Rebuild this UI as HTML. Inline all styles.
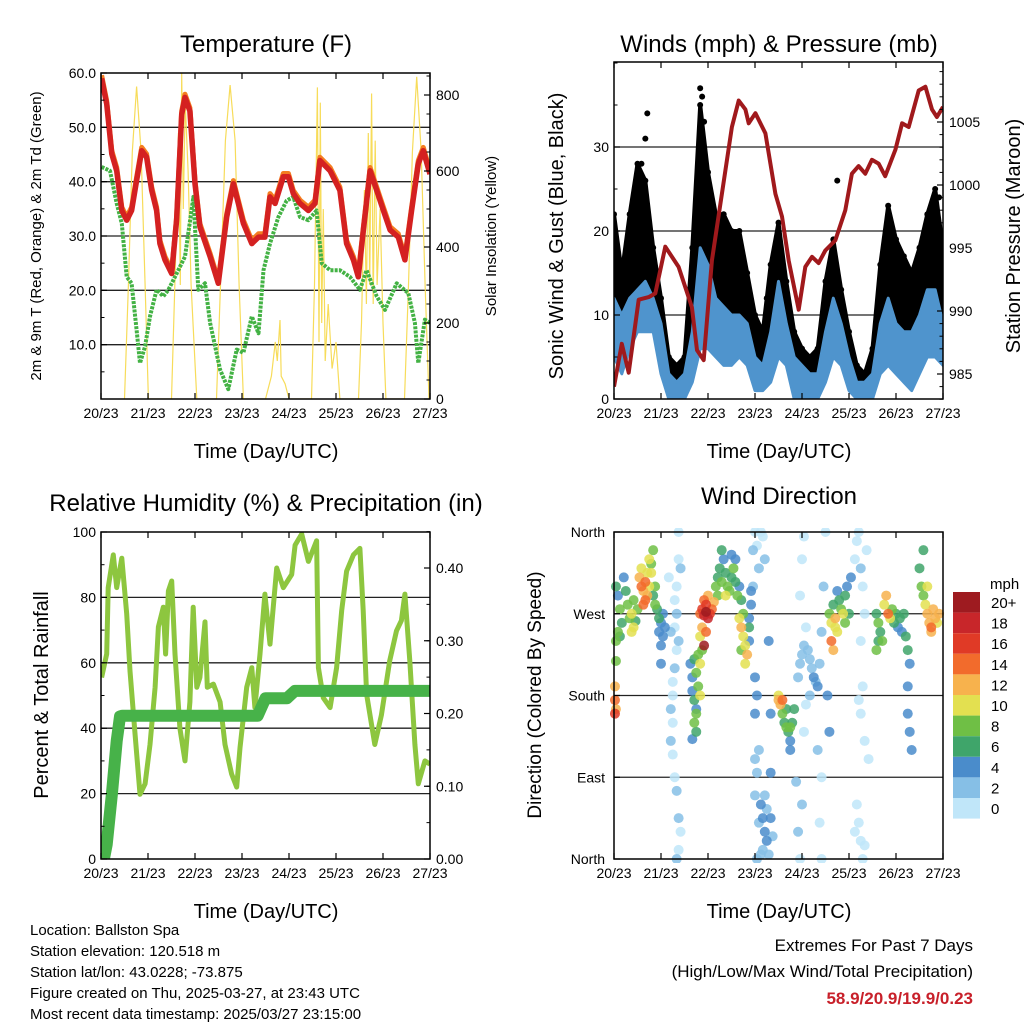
<!DOCTYPE html>
<html><head><meta charset="utf-8"><title>Station Meteogram</title>
<style>
html,body{margin:0;padding:0;background:#fff;}
svg{display:block;font-family:"Liberation Sans",Arial,sans-serif;}
</style></head>
<body>
<svg id="root" width="1024" height="1024" viewBox="0 0 1024 1024" xmlns="http://www.w3.org/2000/svg">
<defs>
<clipPath id="c1"><rect x="101" y="73" width="329" height="326"/></clipPath>
<clipPath id="c2"><rect x="614" y="62" width="329" height="337"/></clipPath>
<clipPath id="c3"><rect x="101" y="532" width="329" height="327"/></clipPath>
<clipPath id="c4"><rect x="610" y="528" width="337" height="335"/></clipPath>
</defs>
<text x="266" y="52" font-size="24" text-anchor="middle">Temperature (F)</text>
<text x="779" y="52" font-size="24" text-anchor="middle">Winds (mph) &amp; Pressure (mb)</text>
<text x="266" y="511" font-size="24" text-anchor="middle">Relative Humidity (%) &amp; Precipitation (in)</text>
<text x="779" y="504" font-size="24" text-anchor="middle">Wind Direction</text>
<text x="266" y="458" font-size="20" text-anchor="middle">Time (Day/UTC)</text>
<text x="779" y="458" font-size="20" text-anchor="middle">Time (Day/UTC)</text>
<text x="266" y="918" font-size="20" text-anchor="middle">Time (Day/UTC)</text>
<text x="779" y="918" font-size="20" text-anchor="middle">Time (Day/UTC)</text>
<text transform="translate(41,236) rotate(-90)" font-size="15" text-anchor="middle">2m &amp; 9m T (Red, Orange) &amp; 2m Td (Green)</text>
<text transform="translate(496,236) rotate(-90)" font-size="15" text-anchor="middle">Solar Insolation (Yellow)</text>
<text transform="translate(563,236) rotate(-90)" font-size="20" text-anchor="middle">Sonic Wind &amp; Gust (Blue, Black)</text>
<text transform="translate(1020,236) rotate(-90)" font-size="20" text-anchor="middle">Station Pressure (Maroon)</text>
<text transform="translate(48,695) rotate(-90)" font-size="20" text-anchor="middle">Percent &amp; Total Rainfall</text>
<text transform="translate(541,695) rotate(-90)" font-size="19" text-anchor="middle">Direction (Colored By Speed)</text>
<g font-size="15">
<text x="30" y="935">Location: Ballston Spa</text>
<text x="30" y="956">Station elevation: 120.518 m</text>
<text x="30" y="977">Station lat/lon: 43.0228; -73.875</text>
<text x="30" y="998">Figure created on Thu, 2025-03-27, at 23:43 UTC</text>
<text x="30" y="1019">Most recent data timestamp: 2025/03/27 23:15:00</text>
</g>
<text x="973" y="951" font-size="17" text-anchor="end">Extremes For Past 7 Days</text>
<text x="973" y="977" font-size="17" text-anchor="end">(High/Low/Max Wind/Total Precipitation)</text>
<text x="973" y="1004" font-size="17" font-weight="bold" fill="#c8202a" text-anchor="end">58.9/20.9/19.9/0.23</text>
<text x="990" y="589" font-size="15">mph</text>
</svg>
<script>
const NS="http://www.w3.org/2000/svg";
const root=document.getElementById('root');
function mk(tag,attrs,parent){const e=document.createElementNS(NS,tag);for(const k in attrs)e.setAttribute(k,attrs[k]);(parent||root).appendChild(e);return e;}

// ---------- DATA ----------
const xTickLabels=["20/23","21/23","22/23","23/23","24/23","25/23","26/23","27/23"];
const tempT=[0.3,2.9,5.5,8,10.6,13.1,15.6,18.2,20.8,23.3,25.9,28.4,30.1,32.7,36.1,38.6,41.2,42.9,45.4,48,50.5,55.7,59.9,64.2,67.6,72.7,77,80.4,83.7,86.3,88.9,93.1,95.7,98.2,101.6,105.9,109.3,111.8,117,122,125.4,128.9,131.4,134,137.4,140.8,144.2,147.6,151.8,155.2,158.6,162,164.6,168];
const tempV=[59,54.3,45.1,42,34.7,32.9,34.7,40.2,45.7,44.5,38.4,34.7,28.6,25.6,23.1,32.9,52.4,55.5,53,39.6,31.7,26.2,21.3,33.5,39.6,32.3,28.6,29.8,29.8,37.2,36,40.9,40.9,37.8,36,34.7,36,43.9,42,38.4,28.6,25.6,22.5,31.1,42,38.4,34.7,31.1,29.8,25.6,34.7,43.3,45.7,41.4];
const dewT=[0.3,4.6,8,10.6,13.1,15.6,18.2,19.9,22.5,25,28.4,31.8,34.4,37.8,42.9,47.2,49.7,53.1,55.7,60.8,65,69.3,72.7,77,80.4,83,86.3,90.6,94.8,98.2,101.6,105.9,110.1,112.7,117,122,127.1,132.2,135.6,140.8,145,151,156.9,160.3,162,165.4,168];
const dewV=[42.7,42,36,32.3,22.5,21.3,12.7,6.6,9.7,15.2,20.1,18.9,20.1,22.5,26.2,37.2,20.1,21.3,14,5.4,1.8,9.1,8.5,15.2,12.1,23.7,28.6,33.5,36.5,37.2,33.5,32.9,34.7,25,23.7,23.7,22.5,20.1,23.7,18.9,16.4,21.3,19.5,14,6.6,14.6,14];
const solarT=[12,14,16,18.2,20.5,22.5,24.2, 36,38,39.5,40.5,41.2,42,43,44.5,46,48.9, 59,61,63.5,65.9,68.5,70.5,72.7, 84,87,89,90,91.4,92,94,96, 107.5,109,110.5,111.3,112,112.7,113.5,114.5,116,118,120,122, 131.5,133,134.5,135.5,136.5,137.2,138.2,139,140,141,142.5,144,145.5, 155,157,159,161.2,163.5,165.5,167.5];
const solarV=[0,300,650,822,650,300,0, 0,350,700,300,857,500,780,600,300,0, 0,300,680,826,680,300,0, 0,60,150,100,208,60,40,0, 0,300,820,150,780,200,500,100,250,80,150,0, 0,200,550,250,700,300,804,250,680,300,500,200,0, 0,300,650,848,650,300,0];
const windT=[0,4,8,12,16,20,24,28,32,36,40,44,48,52,56,60,64,68,72,76,80,84,88,92,96,100,104,108,112,116,120,124,128,132,136,140,144,148,152,156,160,164,168];
const windLo=[5,3,6,8,8,8,3,0,0,0,2,6,6,5,4,4,5,4,1,1,2,5,4,0,0,0,0,2,5,4,1,0,0,0,3,4,3,2,1,3,5,5,4];
const windHi=[12,10,12,13,14,12,9,3,2,3,8,18,16,12,11,10,10,9,5,4,8,14,9,5,4,3,3,8,12,9,5,2,2,3,9,12,9,8,8,10,13,13,9];
const gustLo=[11,9,11,12,13,11,8,2,1,2,7,16,15,11,10,9,9,8,4,3,7,13,8,4,3,2,2,7,11,8,4,1,1,2,8,11,8,7,7,9,12,12,8];
const gustHi=[22,15,22,28,26,18,12,5,4,5,18,35,27,22,22,20,20,15,10,8,16,21,14,8,6,5,6,14,19,13,8,4,3,6,16,23,19,17,15,18,22,25,18];
const gustOutT=[14,16,17,44,45,46,78,114,166];
const gustOutV=[28,31,34,37,36,33,12,26,24];
const presT=[0,4,7.5,12.6,17.7,21.1,26.2,33,39.8,42.4,45.8,50,55.1,60.2,63.7,67.1,68.8,72.2,77.3,82.4,85.8,89.2,94.3,97.7,101.1,104.5,107.9,113,118.1,121.5,124.9,128.3,131.7,135.1,138.5,143.7,147.1,150.5,155.6,159,162.4,164.9,168];
const presV=[984,987.4,985.1,990.9,991.1,991.4,995.1,993.5,990.3,986.9,986.1,994,999.3,1004.6,1006.7,1006,1004.9,1005.7,1004.1,999.3,997.5,994,990.1,993.5,994.3,993.8,994.8,995.6,998,1000.9,1001.5,1000.9,1002,1001.7,1000.7,1002.8,1004.9,1004.6,1007.5,1007.8,1006,1005.4,1006.2];
const rhT=[0.3,2.9,3.7,6.3,8,10.6,13.1,14.8,17.4,19.9,22.5,25,27.6,29.3,31.8,33,34.4,36.1,37.8,40.3,42.9,45.4,47.1,48.9,50.5,53.1,54.3,57.4,60.8,63.3,66.7,69.3,71,74.4,77,78.6,81.2,83.7,86.3,89.7,93.1,97.4,99.1,102.5,105.9,110.1,111,113.5,117,120.3,122.9,125.4,128.9,132.2,133.9,135.6,139.8,143.2,147.4,150.9,153.4,155.2,157.7,160.3,162,165.4,168];
const rhV=[55.5,62.7,83,93,83,92,75,57.5,38,19.8,23,35,52.5,71,77,62.7,82,85,62.7,40,30,48,77,52.5,55.5,72.5,52.5,53.5,48,35,26,22,34,52.5,58.5,46.3,62.7,81,65.7,89,83,87,96,99.4,91,97.3,58.5,49.3,46.3,58.5,76,88,93,95,76,50.4,35,44,60.6,69.8,72.9,81,60.6,35,23,30,29];
const rainT=[0,1.5,2.9,5.5,8,9.7,11,80,84,95,99,168];
const rainV=[0,0,0.02,0.088,0.162,0.196,0.197,0.197,0.221,0.221,0.231,0.231];
const dirT=[1,2,3,4,2,5,6,7,8,9,10,11,12,1,3,9,10,1,0.5,0.5,1,0.5,
13,14,15,16,17,18,16,19,19,20,18,21,20,14,17,22,23,15,21,
24,25,24,26,25,24,23,
33,33,34,32,31,32,31,33,32,31,30,30,29,30,29,30,31,32,33,34,33,32,29,28,
39,40,40,41,42,41,42,40,43,42,44,43,44,41,42,
44,45,46,47,48,49,46,47,48,50,51,45,44,47,46,45,
52,53,54,55,56,57,58,59,60,61,62,63,64,65,55,60,57,62,53,
64,65,66,67,68,67,66,69,65,69,70,70,69,
71,72,73,74,75,76,77,71,72,73,72,74,72,73,72,75,76,77,78,76,79,77,80,81,74,78,73,80,75,80,79,
84,85,86,87,88,89,90,91,92,88,86,90,84,90,
94,95,96,97,98,99,100,101,102,103,100,98,104,105,106,95,96,97,93,94,95,96,97,105,106,104,106,108,107,109,110,
110,111,112,113,114,115,116,117,118,119,120,111,112,113,121,118,114,
123,124,125,126,127,128,126,127,125,126,128,130,124,125,126,127,123,128,129,
134,135,136,137,138,139,140,141,142,143,144,145,146,147,148,149,150,151,150,151,152,150,156,157,158,159,160,161,162,163,164,165,166,160,158,162,134,135];
const dirV=[300,290,275,260,250,310,295,280,265,270,285,262,275,240,245,250,255,218,190,175,165,160,
310,300,295,305,290,300,285,315,325,340,330,300,290,320,315,275,265,280,280,
260,245,235,255,270,215,250,
360,330,320,300,285,270,255,240,230,210,195,180,165,150,130,115,90,75,45,30,10,0,250,310,
215,200,185,175,165,150,140,132,190,205,215,225,180,220,160,
270,275,268,272,265,270,285,280,290,275,283,255,245,250,235,230,
300,310,320,305,330,315,300,295,310,320,305,290,300,285,340,335,290,330,290,
265,255,245,235,225,215,270,255,230,265,280,295,240,
340,360,345,320,360,355,330,300,200,180,160,120,110,95,70,60,45,30,20,10,5,70,45,25,40,55,0,95,5,160,240,
180,170,160,150,145,140,130,150,165,165,175,145,175,120,
200,215,225,235,255,230,220,210,200,195,180,170,190,215,250,290,330,355,85,30,0,60,140,40,0,120,90,360,300,180,140,
270,260,280,265,250,285,275,270,290,300,270,240,230,255,310,260,295,
330,350,360,320,300,270,240,190,175,160,130,110,60,40,20,0,30,15,340,
270,260,250,240,280,290,270,265,275,260,270,255,265,250,270,245,230,215,160,140,120,190,320,300,290,280,270,260,255,275,265,260,270,300,340,250,230,240];
const dirS=[6,4,8,6,8,4,6,8,8,10,8,6,8,8,6,10,10,8,12,14,12,16,
12,14,12,14,12,10,14,10,8,8,10,8,6,10,10,6,6,14,8,
4,4,4,4,4,4,4,
0,0,2,0,0,2,0,2,0,2,0,0,2,0,2,0,0,2,2,0,0,2,2,0,
4,4,4,6,4,8,6,4,8,8,10,8,10,6,8,
14,16,18,20,18,16,14,16,12,14,12,12,10,14,20,8,
8,6,6,8,4,6,8,8,6,8,6,8,4,6,6,4,10,4,8,
10,12,10,10,12,10,8,6,8,4,4,4,4,
2,0,0,2,0,0,2,2,4,4,4,2,2,2,2,4,4,4,4,2,2,2,4,2,2,2,2,4,2,4,4,
10,12,8,6,8,6,4,6,6,6,14,8,12,4,
2,2,2,2,0,2,2,2,4,2,2,0,4,2,2,0,0,0,2,2,0,2,0,0,0,2,0,0,2,4,4,
8,10,6,12,10,6,8,10,6,4,6,14,12,10,4,8,4,
0,0,0,2,0,0,0,0,0,0,0,0,0,0,0,0,0,0,0,
6,8,6,8,10,12,14,10,8,6,6,4,6,4,6,6,6,4,4,4,4,4,6,8,8,10,12,12,14,12,12,10,12,10,6,12,8,6];
const speedLevels=["0","2","4","6","8","10","12","14","16","18","20+"];
const speedColors=["#c0e6f9","#86bfe6","#4a8ccb","#3fa56a","#6fbf45","#e3e050","#f7b24d","#f26b2c","#e03a26","#c8262a","#9e1b20"];
const tempTicks=[10,20,30,40,50,60];
const solarTicks=[0,200,400,600,800];
const windTicks=[0,10,20,30];
const presTicks=[985,990,995,1000,1005];
const rhTicks=[0,20,40,60,80,100];
const rainTicks=[0,0.1,0.2,0.3,0.4];
const dirTicks=[0,90,180,270,360];
const dirLabels=["North","East","South","West","North"];

// ---------- SCALES ----------
function lin(d0,d1,r0,r1){return v=>r0+(v-d0)/(d1-d0)*(r1-r0);}
const P1={x0:101,x1:430,y0:73,y1:399};
const P2={x0:614,x1:943,y0:62,y1:399};
const P3={x0:101,x1:430,y0:532,y1:859};
const P4={x0:614,x1:943,y0:532,y1:859};
const x1s=lin(0,168,P1.x0,P1.x1), x2s=lin(0,168,P2.x0,P2.x1);
const yTemp=lin(0,60,399,73), ySolar=lin(0,800,399,95);
const yWind=lin(0,30,399,147), yPres=lin(985,1005,374,122);
const yRh=lin(0,100,859,532), yRain=lin(0,0.4,859,568);
const yDir=lin(0,360,859,532);

function pathOf(T,V,xs,ys){let d="";for(let i=0;i<T.length;i++){d+=(i?"L":"M")+xs(T[i]).toFixed(1)+","+ys(V[i]).toFixed(1);}return d;}
function bandOf(T,lo,hi,xs,ys){let d="";for(let i=0;i<T.length;i++)d+=(i?"L":"M")+xs(T[i]).toFixed(1)+","+ys(hi[i]).toFixed(1);for(let i=T.length-1;i>=0;i--)d+="L"+xs(T[i]).toFixed(1)+","+ys(lo[i]).toFixed(1);return d+"Z";}

function gridAndFrame(P,gridYs,name){
  const g=mk('g',{});
  
  
  gridYs.forEach(y=>{const l=mk('line',{x1:P.x0,x2:P.x1,y1:y,y2:y,stroke:'#222','stroke-width':1.3},g);
    
    });
}
function frame(P,name){
  const r=mk('rect',{x:P.x0,y:P.y0,width:P.x1-P.x0,height:P.y1-P.y0,fill:'none',stroke:'#000','stroke-width':1.5});
  
  
  for(let i=0;i<8;i++){const x=P.x0+i*(P.x1-P.x0)/7;
    mk('line',{x1:x,x2:x,y1:P.y1,y2:P.y1-6,stroke:'#000','stroke-width':1.2});
    mk('line',{x1:x,x2:x,y1:P.y0,y2:P.y0+6,stroke:'#000','stroke-width':1.2});
    const t=mk('text',{x:x,y:P.y1+19,'font-size':14,'text-anchor':'middle'});
    t.textContent=xTickLabels[i];
    
    
  }
}
function yAxis(P,ticks,labels,ys,side,minorStep,lo,hi){
  const xe= side==='l'?P.x0:P.x1, dir= side==='l'?1:-1;
  ticks.forEach((v,i)=>{const y=ys(v);
    mk('line',{x1:xe,x2:xe+dir*6,y1:y,y2:y,stroke:'#000','stroke-width':1.2});
    const t=mk('text',{x:side==='l'?xe-5:xe+6,y:y+5,'font-size':14,'text-anchor':side==='l'?'end':'start'});
    t.textContent=labels[i];
    
    });
  if(minorStep){for(let v=lo;v<=hi+1e-9;v+=minorStep){const y=ys(v);if(y<P.y0-0.5||y>P.y1+0.5)continue;
    mk('line',{x1:xe,x2:xe+dir*3.5,y1:y,y2:y,stroke:'#000','stroke-width':1});}}
}

// ---------- PANEL 1 ----------
gridAndFrame(P1,[10,20,30,40,50].map(yTemp),'temperature');
const g1=mk('g',{'clip-path':'url(#c1)'});
const sol=mk('path',{d:pathOf(solarT,solarV,x1s,ySolar),fill:'none',stroke:'#f7dc5a','stroke-width':1.2},g1);


const dew=mk('path',{d:pathOf(dewT,dewV,x1s,yTemp),fill:'none',stroke:'#43b244','stroke-width':4,'stroke-dasharray':'3 1.2','stroke-linejoin':'round'},g1);


const t9=mk('path',{d:pathOf(tempT,tempV.map(v=>v+0.6),x1s,yTemp),fill:'none',stroke:'#f47d20','stroke-width':5,'stroke-linejoin':'round'},g1);


const t2=mk('path',{d:pathOf(tempT,tempV,x1s,yTemp),fill:'none',stroke:'#d42121','stroke-width':5.5,'stroke-linejoin':'round'},g1);


frame(P1,'temperature');
yAxis(P1,tempTicks,tempTicks.map(v=>v.toFixed(1)),yTemp,'l',5,0,60);
yAxis(P1,solarTicks,solarTicks.map(String),ySolar,'r',50,0,850);

// ---------- PANEL 2 ----------
gridAndFrame(P2,[10,20,30].map(yWind),'winds');
const g2=mk('g',{'clip-path':'url(#c2)'});
const gb=mk('path',{d:bandOf(windT,gustLo,gustHi,x2s,yWind),fill:'#000',stroke:'#000','stroke-width':4,'stroke-linejoin':'round'},g2);


for(let i=0;i<windT.length;i++){
  const c=mk('circle',{cx:x2s(windT[i]),cy:yWind(gustHi[i]),r:3,fill:'#000'},g2);
  
  
}
for(let i=0;i<gustOutT.length;i++){
  const c=mk('circle',{cx:x2s(gustOutT[i]),cy:yWind(gustOutV[i]),r:3,fill:'#000'},g2);
  
  
}
const wb=mk('path',{d:bandOf(windT,windLo,windHi,x2s,yWind),fill:'#4f94cd',stroke:'#4f94cd','stroke-width':3,'stroke-linejoin':'round'},g2);


const pr=mk('path',{d:pathOf(presT,presV,x2s,yPres),fill:'none',stroke:'#a0191c','stroke-width':4,'stroke-linejoin':'round'},g2);


frame(P2,'winds');
yAxis(P2,windTicks,windTicks.map(String),yWind,'l',5,0,40);
yAxis(P2,presTicks,presTicks.map(String),yPres,'r',1,983,1009);

// ---------- PANEL 3 ----------
gridAndFrame(P3,[20,40,60,80].map(yRh),'humidity');
const g3=mk('g',{'clip-path':'url(#c3)'});
const rh=mk('path',{d:pathOf(rhT,rhV,x1s,yRh),fill:'none',stroke:'#8dc63f','stroke-width':5,'stroke-linejoin':'round'},g3);


const rn=mk('path',{d:pathOf(rainT,rainV,x1s,yRain),fill:'none',stroke:'#47b249','stroke-width':12,'stroke-linejoin':'round','stroke-linecap':'round'},g3);


frame(P3,'humidity');
yAxis(P3,rhTicks,rhTicks.map(String),yRh,'l',10,0,100);
yAxis(P3,rainTicks,rainTicks.map(v=>v.toFixed(2)),yRain,'r',0.05,0,0.45);

// ---------- PANEL 4 ----------
gridAndFrame(P4,[90,180,270].map(yDir),'direction');
const g4=mk('g',{'clip-path':'url(#c4)'});
function colorFor(s){let k=Math.min(10,Math.max(0,Math.round(s/2)));return speedColors[k];}
const order=dirT.map((_,i)=>i).sort((a,b)=>dirS[a]-dirS[b]);
order.forEach(i=>{
  const c=mk('circle',{cx:x2s(dirT[i]),cy:yDir(dirV[i]),r:5,fill:colorFor(dirS[i]),'fill-opacity':0.85},g4);
  
  
});
frame(P4,'direction');
dirTicks.forEach((v,i)=>{const y=yDir(v);
  mk('line',{x1:P4.x0,x2:P4.x0+6,y1:y,y2:y,stroke:'#000','stroke-width':1.2});
  const t=mk('text',{x:P4.x0-9,y:y+5,'font-size':14,'text-anchor':'end'});
  t.textContent=dirLabels[i];
  
  
});
// colorbar
const cb=mk('g',{});


for(let k=0;k<speedLevels.length;k++){
  const idx=speedLevels.length-1-k;
  const y=592+k*20.6;
  const r=mk('rect',{x:953,y:y,width:27,height:20.6,fill:speedColors[idx]},cb);
  
  
  const t=mk('text',{x:991,y:y+16,'font-size':15},cb);
  t.textContent=speedLevels[idx];
  
  
}
</script>
</body></html>
